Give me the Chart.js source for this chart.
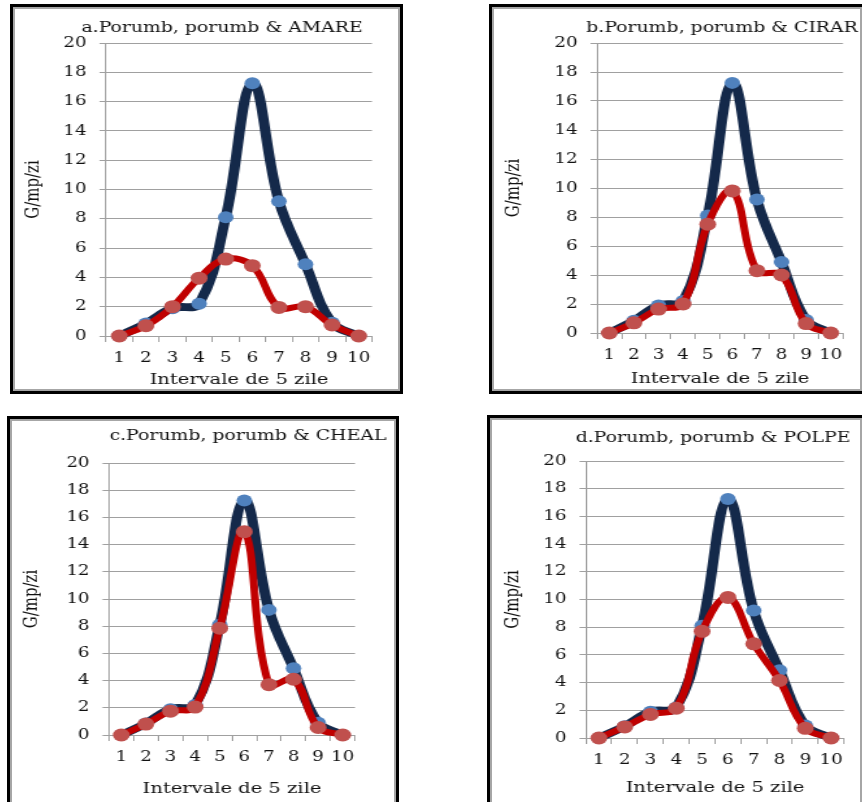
<!DOCTYPE html>
<html>
<head>
<meta charset="utf-8">
<script src="https://cdn.jsdelivr.net/npm/chart.js@4.4.1/dist/chart.umd.min.js"></script>
<style>
  html, body { margin: 0; padding: 0; background: #fff; }
  body { width: 862px; height: 802px; overflow: hidden; position: relative; }
  .frame { position: absolute; box-sizing: border-box; border: 3px solid #000; }
  .frame::after { content: ""; position: absolute; inset: 0; border: 2px solid #a6a6a6; }
  canvas { position: absolute; transform-origin: 0 0; }
</style>
</head>
<body>
<script>
// data
const intervals = ["1", "2", "3", "4", "5", "6", "7", "8", "9", "10"];
const porumb = [0, 0.85, 1.9, 2.2, 8.1, 17.25, 9.2, 4.9, 0.9, 0];
const amare = [0, 0.7, 2.0, 3.95, 5.25, 4.8, 1.95, 2.0, 0.75, 0];
const cirar = [0, 0.7, 1.65, 2.0, 7.5, 9.8, 4.3, 4.0, 0.65, 0];
const cheal = [0, 0.8, 1.75, 2.05, 7.85, 14.95, 3.7, 4.1, 0.55, 0];
const polpe = [0, 0.8, 1.7, 2.15, 7.7, 10.15, 6.8, 4.15, 0.7, 0];
const titles = [
  "a.Porumb, porumb & AMARE",
  "b.Porumb, porumb & CIRAR",
  "c.Porumb, porumb & CHEAL",
  "d.Porumb, porumb & POLPE"
];
const weeds = ["AMARE", "CIRAR", "CHEAL", "POLPE"];
const weedSeries = [amare, cirar, cheal, polpe];

// the original picture is stretched sideways, so each canvas is too
const S = 1.3;
const family = "'DejaVu Serif', serif";
const ink = "#111";
const gridColor = "#a0a0a0";

// page positions of each panel (frame box, plot area, text centres)
const panels = [
  { x: 10, y: 4, w: 393, h: 390, L: 106, T: 43, R: 372, B: 336, titleX: 222, titleY: 28, yTitleX: 33, xTitleY: 380 },
  { x: 489, y: 4, w: 376, h: 390, L: 597, T: 43, R: 843, B: 333, titleX: 722, titleY: 28, yTitleX: 514, xTitleY: 379 },
  { x: 7, y: 416, w: 392, h: 392, L: 109, T: 463, R: 355, B: 735, titleX: 248, titleY: 436, yTitleX: 32, xTitleY: 789 },
  { x: 487, y: 415, w: 378, h: 392, L: 586, T: 461, R: 844, B: 738, titleX: 713, titleY: 438, yTitleX: 513, xTitleY: 788 }
];

// moves the title box sideways after layout
const shiftTitle = {
  id: "shiftTitle",
  afterLayout(chart, args, opts) {
    const t = chart.titleBlock;
    if (t && opts.dx) {
      t.left += opts.dx;
      t.right += opts.dx;
    }
  }
};

function makePanel(p, title, weedName, weedData) {
  const frame = document.createElement("div");
  frame.className = "frame";
  Object.assign(frame.style, { left: p.x + "px", top: p.y + "px", width: p.w + "px", height: p.h + "px" });
  document.body.appendChild(frame);

  const W = Math.round(p.w / S);
  const H = p.h;
  const canvas = document.createElement("canvas");
  canvas.width = W;
  canvas.height = H;
  Object.assign(canvas.style, {
    left: p.x + "px", top: p.y + "px", width: W + "px", height: H + "px",
    transform: "scaleX(" + S + ")"
  });
  document.body.appendChild(canvas);

  // local (unstretched) coordinates
  const L = (p.L - p.x) / S;
  const R = (p.R - p.x) / S;
  const T = p.T - p.y;
  const B = p.B - p.y;
  const titleCy = p.titleY - p.y;
  const xBottom = p.xTitleY - p.y + 9;
  const yTitleCx = (p.yTitleX - p.x) / S;

  new Chart(canvas.getContext("2d"), {
    type: "line",
    data: {
      labels: intervals,
      datasets: [
        {
          label: weedName,
          data: weedData,
          borderColor: "#c00000",
          borderWidth: 6,
          pointRadius: 6.5,
          pointBackgroundColor: "#c0504d",
          pointBorderWidth: 0,
          tension: 0.4,
          clip: false,
          order: 0
        },
        {
          label: "Porumb, porumb",
          data: porumb,
          borderColor: "#14294a",
          borderWidth: 8,
          pointRadius: 6,
          pointBackgroundColor: "#4f81bd",
          pointBorderWidth: 0,
          tension: 0.4,
          clip: false,
          order: 1
        }
      ]
    },
    options: {
      responsive: false,
      animation: false,
      events: [],
      layout: { padding: { left: 0, top: 0, right: W - R, bottom: H - xBottom } },
      scales: {
        x: {
          type: "category",
          offset: true,
          grid: { display: true, offset: true, drawOnChartArea: false, tickLength: 6, color: gridColor },
          border: { display: true, color: gridColor },
          ticks: { color: ink, font: { family, size: 14 }, padding: 8, maxRotation: 0, autoSkip: false },
          title: { display: true, text: "Intervale de 5 zile", color: ink, font: { family, size: 15, lineHeight: 1.2 }, padding: 0 },
          afterFit: (s) => { s.height = xBottom - B; }
        },
        y: {
          min: 0,
          max: 20,
          ticks: { stepSize: 2, color: ink, font: { family, size: 14 }, padding: 10 },
          grid: { color: gridColor, tickLength: 5 },
          border: { display: true, color: gridColor },
          title: { display: true, text: "G/mp/zi", color: ink, font: { family, size: 15, lineHeight: 1.2 }, padding: { top: yTitleCx - 9, bottom: 0 } },
          afterFit: (s) => { s.width = L; }
        }
      },
      plugins: {
        legend: { display: false },
        tooltip: { enabled: false },
        title: {
          display: true,
          text: title,
          color: ink,
          fullSize: true,
          font: { family, size: 14.5, weight: "normal", lineHeight: 1.2 },
          padding: { top: titleCy - 8.7, bottom: T - titleCy - 8.7 }
        },
        shiftTitle: { dx: (p.titleX - p.x) / S - R / 2 }
      }
    },
    plugins: [shiftTitle]
  });
}

panels.forEach((p, i) => makePanel(p, titles[i], weeds[i], weedSeries[i]));
</script>
</body>
</html>
